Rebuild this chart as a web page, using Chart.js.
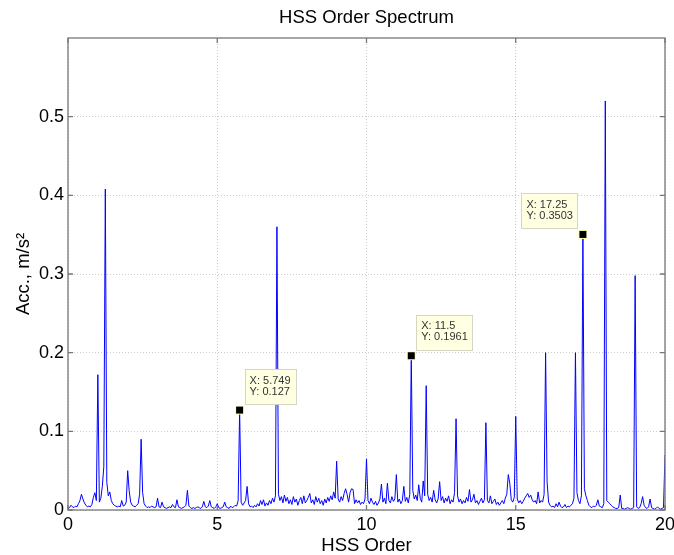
<!DOCTYPE html>
<html>
<head>
<meta charset="utf-8">
<title>HSS Order Spectrum</title>
<script src="https://cdn.jsdelivr.net/npm/chart.js@4.4.1/dist/chart.umd.min.js"></script>
<style>
  html, body { margin: 0; padding: 0; background: #ffffff; }
  #wrap { width: 674px; height: 555px; }
</style>
</head>
<body>
<div id="wrap"><canvas id="spectrum"></canvas></div>
<script>
// spectrum sampled every 0.05 order, one row per order (0 .. 20)
const orderStep = 0.05;
const amplitudes = [
  0.002, 0.003, 0.006, 0.004, 0.003, 0.005, 0.004, 0.008, 0.012, 0.020, 0.014, 0.009, 0.006, 0.004, 0.005, 0.004, 0.007, 0.016, 0.022, 0.012,
  0.172, 0.010, 0.015, 0.030, 0.055, 0.408, 0.035, 0.018, 0.023, 0.012, 0.008, 0.006, 0.005, 0.004, 0.005, 0.004, 0.012, 0.005, 0.006, 0.010,
  0.050, 0.024, 0.010, 0.006, 0.005, 0.004, 0.006, 0.008, 0.020, 0.090, 0.022, 0.008, 0.005, 0.003, 0.004, 0.003, 0.005, 0.004, 0.003, 0.004,
  0.015, 0.004, 0.003, 0.010, 0.004, 0.003, 0.002, 0.003, 0.004, 0.003, 0.007, 0.004, 0.003, 0.013, 0.004, 0.003, 0.002, 0.003, 0.004, 0.006,
  0.025, 0.005, 0.003, 0.002, 0.003, 0.002, 0.003, 0.004, 0.003, 0.002, 0.004, 0.011, 0.004, 0.003, 0.005, 0.012, 0.004, 0.003, 0.002, 0.004,
  0.008, 0.003, 0.002, 0.003, 0.004, 0.010, 0.004, 0.003, 0.002, 0.005, 0.003, 0.004, 0.006, 0.005, 0.012, 0.127, 0.010, 0.006, 0.009, 0.012,
  0.030, 0.008, 0.004, 0.005, 0.003, 0.006, 0.004, 0.008, 0.005, 0.012, 0.007, 0.013, 0.005, 0.009, 0.006, 0.012, 0.008, 0.015, 0.010, 0.018,
  0.360, 0.020, 0.012, 0.017, 0.009, 0.019, 0.011, 0.016, 0.008, 0.013, 0.007, 0.017, 0.010, 0.014, 0.006, 0.012, 0.016, 0.008, 0.018, 0.009,
  0.012, 0.016, 0.021, 0.009, 0.013, 0.007, 0.017, 0.010, 0.015, 0.008, 0.012, 0.006, 0.014, 0.009, 0.016, 0.011, 0.018, 0.013, 0.023, 0.015,
  0.062, 0.014, 0.010, 0.017, 0.012, 0.021, 0.027, 0.020, 0.010, 0.022, 0.027, 0.026, 0.008, 0.013, 0.009, 0.012, 0.007, 0.010, 0.008, 0.014,
  0.065, 0.012, 0.008, 0.015, 0.010, 0.007, 0.011, 0.006, 0.009, 0.014, 0.033, 0.010, 0.015, 0.008, 0.034, 0.012, 0.009, 0.017, 0.011, 0.014,
  0.045, 0.010, 0.014, 0.008, 0.012, 0.030, 0.011, 0.016, 0.009, 0.020, 0.196, 0.025, 0.014, 0.019, 0.012, 0.032, 0.015, 0.010, 0.037, 0.018,
  0.158, 0.020, 0.012, 0.016, 0.010, 0.025, 0.013, 0.009, 0.014, 0.036, 0.012, 0.017, 0.009, 0.015, 0.011, 0.018, 0.008, 0.013, 0.010, 0.022,
  0.116, 0.018, 0.010, 0.014, 0.008, 0.012, 0.009, 0.016, 0.011, 0.026, 0.010, 0.013, 0.020, 0.009, 0.012, 0.007, 0.011, 0.015, 0.009, 0.013,
  0.111, 0.012, 0.009, 0.018, 0.008, 0.011, 0.014, 0.007, 0.010, 0.006, 0.009, 0.012, 0.008, 0.015, 0.020, 0.045, 0.034, 0.013, 0.010, 0.016,
  0.119, 0.014, 0.009, 0.012, 0.008, 0.011, 0.015, 0.018, 0.021, 0.016, 0.019, 0.013, 0.010, 0.012, 0.008, 0.023, 0.009, 0.012, 0.010, 0.020,
  0.200, 0.036, 0.010, 0.006, 0.004, 0.005, 0.003, 0.008, 0.004, 0.010, 0.005, 0.003, 0.004, 0.007, 0.003, 0.005, 0.004, 0.006, 0.008, 0.015,
  0.200, 0.022, 0.012, 0.008, 0.018, 0.350, 0.027, 0.018, 0.012, 0.006, 0.004, 0.003, 0.005, 0.004, 0.006, 0.013, 0.005, 0.004, 0.003, 0.008,
  0.520, 0.012, 0.010, 0.008, 0.006, 0.004, 0.003, 0.002, 0.002, 0.003, 0.019, 0.002, 0.002, 0.001, 0.002, 0.003, 0.002, 0.001, 0.002, 0.003,
  0.298, 0.004, 0.002, 0.003, 0.008, 0.017, 0.006, 0.003, 0.002, 0.004, 0.014, 0.003, 0.002, 0.001, 0.002, 0.004, 0.002, 0.001, 0.002, 0.003,
  0.070
];

const xTicks = [0, 5, 10, 15, 20];
const xTickLabels = ['0', '5', '10', '15', '20'];
const yTicks = [0, 0.1, 0.2, 0.3, 0.4, 0.5];
const yTickLabels = ['0', '0.1', '0.2', '0.3', '0.4', '0.5'];

// data cursors
const tipOrders = [5.749, 11.5, 17.25];
const tipAmps = [0.127, 0.1961, 0.3503];

const FONT = "'Liberation Sans', Arial, sans-serif";

// box, inward tick marks and data tips, MATLAB style
const matlabAxes = {
    id: 'matlabAxes',
    afterDraw(chart, args, opts) {
        const ctx = chart.ctx;
        const a = chart.chartArea;
        const xs = chart.scales.x, ys = chart.scales.y;
        ctx.save();
        ctx.strokeStyle = '#777777';
        ctx.lineWidth = 1.3;
        ctx.strokeRect(a.left, a.top, a.right - a.left, a.bottom - a.top);
        ctx.beginPath();
        xTicks.forEach(v => {
            const px = xs.getPixelForValue(v);
            ctx.moveTo(px, a.bottom); ctx.lineTo(px, a.bottom - 5);
            ctx.moveTo(px, a.top); ctx.lineTo(px, a.top + 5);
        });
        yTicks.forEach(v => {
            const py = ys.getPixelForValue(v);
            ctx.moveTo(a.left, py); ctx.lineTo(a.left + 5, py);
            ctx.moveTo(a.right, py); ctx.lineTo(a.right - 5, py);
        });
        ctx.stroke();

        ctx.font = '11px ' + FONT;
        ctx.textBaseline = 'middle';
        tipOrders.forEach((ord, i) => {
            const px = xs.getPixelForValue(ord);
            const py = ys.getPixelForValue(tipAmps[i]);
            const l1 = 'X: ' + ord, l2 = 'Y: ' + tipAmps[i];
            const w = Math.max(ctx.measureText(l1).width, ctx.measureText(l2).width) + 10;
            const h = 35;
            const bx = opts.placement[i] === 'left' ? px - 5 - w : px + 5;
            const by = py - 6 - h;
            ctx.fillStyle = '#ffffe1';
            ctx.fillRect(bx, by, w, h);
            ctx.strokeStyle = '#d6d6c4';
            ctx.lineWidth = 1;
            ctx.strokeRect(Math.round(bx) + 0.5, Math.round(by) + 0.5, Math.round(w), h);
            ctx.fillStyle = '#333333';
            ctx.textAlign = 'left';
            ctx.fillText(l1, bx + 5, by + 11.5);
            ctx.fillText(l2, bx + 5, by + 22.5);
            // marker
            ctx.fillStyle = '#ffffb4';
            ctx.fillRect(px - 4.5, py - 4.5, 9, 9);
            ctx.fillStyle = '#000000';
            ctx.fillRect(px - 3.5, py - 3.5, 7, 7);
        });
        ctx.restore();
    }
};

const ctx = document.getElementById('spectrum').getContext('2d');
new Chart(ctx, {
    type: 'line',
    data: {
        datasets: [{
            data: amplitudes.map((a, i) => ({ x: i * orderStep, y: a })),
            borderColor: '#0000ff',
            borderWidth: 1,
            pointRadius: 0,
            tension: 0
        }]
    },
    options: {
        responsive: true,
        maintainAspectRatio: false,
        animation: false,
        layout: { padding: { left: 0, right: 9, top: 0, bottom: 0 } },
        plugins: {
            legend: { display: false },
            tooltip: { enabled: false },
            title: {
                display: true,
                text: 'HSS Order Spectrum',
                fullSize: false,
                color: '#000000',
                font: { family: FONT, size: 18.5, weight: 'normal', lineHeight: 1.2 },
                padding: { top: 7, bottom: 8.8 }
            },
            matlabAxes: { placement: ['right', 'right', 'left'] }
        },
        scales: {
            x: {
                type: 'linear',
                min: 0,
                max: 20,
                afterBuildTicks: s => { s.ticks = xTicks.map(v => ({ value: v })); },
                afterFit: s => { s.height = 45; s.paddingLeft = 0; s.paddingRight = 0; },
                ticks: {
                    autoSkip: false,
                    maxRotation: 0,
                    padding: 4,
                    color: '#000000',
                    font: { family: FONT, size: 18 },
                    callback: (v, i) => xTickLabels[i]
                },
                grid: { color: 'rgba(0,0,0,0.2)', drawTicks: false },
                border: { display: false, dash: [1, 2] },
                title: {
                    display: true,
                    text: 'HSS Order',
                    color: '#000000',
                    font: { family: FONT, size: 18.5, lineHeight: 1 },
                    padding: { top: 0, bottom: 0 }
                }
            },
            y: {
                min: 0,
                max: 0.6,
                afterBuildTicks: s => { s.ticks = yTicks.map(v => ({ value: v })); },
                afterFit: s => { s.width = 68; s.paddingTop = 0; s.paddingBottom = 0; },
                ticks: {
                    autoSkip: false,
                    padding: 4,
                    color: '#000000',
                    font: { family: FONT, size: 18 },
                    callback: (v, i) => yTickLabels[i]
                },
                grid: { color: 'rgba(0,0,0,0.2)', drawTicks: false },
                border: { display: false, dash: [1, 2] },
                title: {
                    display: true,
                    text: 'Acc., m/s²',
                    color: '#000000',
                    font: { family: FONT, size: 18.5, lineHeight: 1.2 },
                    padding: { top: 13, bottom: 0 }
                }
            }
        }
    },
    plugins: [matlabAxes]
});
</script>
</body>
</html>
